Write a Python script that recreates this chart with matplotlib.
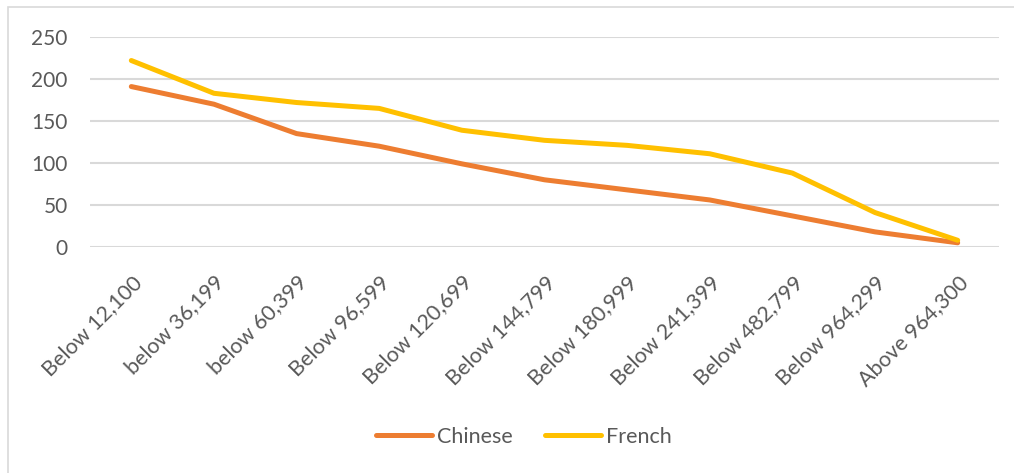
import matplotlib.pyplot as plt
from matplotlib.patches import Rectangle

plt.rcParams['font.family'] = ['Lato', 'DejaVu Sans']

income_bands = ["Below 12,100", "below 36,199", "below 60,399", "Below 96,599",
                "Below 120,699", "Below 144,799", "Below 180,999", "Below 241,399",
                "Below 482,799", "Below 964,299", "Above 964,300"]
chinese = [191, 170, 135, 120, 99, 80, 68, 56, 37, 18, 5]
french = [222, 183, 172, 165, 139, 127, 121, 111, 88, 41, 8]

ORANGE = "#ED7D31"
GOLD = "#FFC000"
TEXT = "#595959"
GRID = "#D9D9D9"

fig = plt.figure(figsize=(10.14, 4.73), dpi=100)
# outer chart frame
fig.patches.append(Rectangle((8 / 1014, -0.05), 1.1, 1 - 7 / 473 + 0.05,
                             transform=fig.transFigure, fill=False,
                             edgecolor=GRID, linewidth=1.2))

ax = fig.add_axes([90 / 1014, 1 - 247 / 473, (999 - 90) / 1014, (247 - 37) / 473])
x = range(len(income_bands))
ax.plot(x, chinese, color=ORANGE, lw=3.6, label="Chinese", solid_capstyle="round")
ax.plot(x, french, color=GOLD, lw=3.6, label="French", solid_capstyle="round")

ax.set_xlim(-0.5, len(income_bands) - 0.5)
ax.set_ylim(0, 250)
ax.set_yticks(range(0, 251, 50))
ax.yaxis.grid(True, color=GRID, lw=1.5)
ax.set_axisbelow(True)
for s in ax.spines.values():
    s.set_visible(False)

ax.set_xticks(list(x))
ax.set_xticklabels(income_bands, rotation=45, ha="right", rotation_mode="anchor")
ax.tick_params(axis="y", length=0, pad=16, labelsize=15, labelcolor=TEXT)
ax.tick_params(axis="x", length=0, pad=18, labelsize=15.5, labelcolor=TEXT)

fig.legend(loc="center", bbox_to_anchor=(524 / 1014, 1 - 437 / 473), ncol=2,
           frameon=False, fontsize=15.5, labelcolor=TEXT, handlelength=2.6,
           handletextpad=0.25, columnspacing=1.5)

fig.savefig("out.png", dpi=100)
